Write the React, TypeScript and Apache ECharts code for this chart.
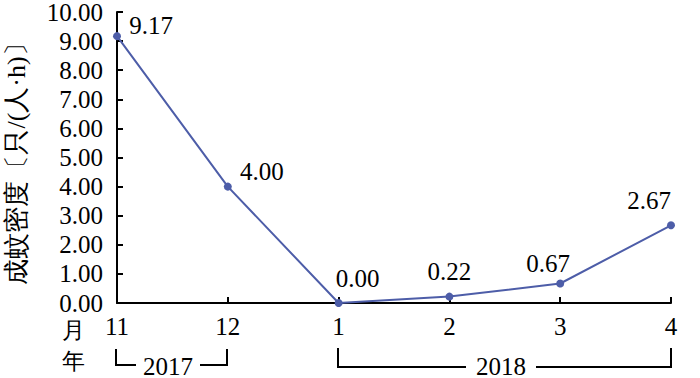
import React, { useEffect, useRef } from "react";
import * as echarts from "echarts";

const months = ["11", "12", "1", "2", "3", "4"];
const density = [9.17, 4.0, 0.0, 0.22, 0.67, 2.67];
const yearGroups = ["2017", "2018"];
const yMin = 0;
const yMax = 10;
const yStep = 1;

// label nudges (style only)
const labelOffsets: [number, number][] = [
  [34, 11],
  [34, 6],
  [19, -3],
  [0, -4],
  [-12, 1],
  [-22, -3],
];

const SERIF = "serif";
const LINE = "#4d5da8";
const FS = 25;

export default function App() {
  const ref = useRef<HTMLDivElement>(null);
  useEffect(() => {
    if (!ref.current) return;
    const chart = echarts.init(ref.current, null, { renderer: "svg" });
    const bracket = (x1: number, x2: number, y1: number, y2: number, tx1: number, tx2: number) => [
      { type: "polyline", shape: { points: [[x1, y1], [x1, y2], [tx1, y2]] }, style: { stroke: "#000", lineWidth: 2, fill: "none" } },
      { type: "polyline", shape: { points: [[tx2, y2], [x2, y2], [x2, y1]] }, style: { stroke: "#000", lineWidth: 2, fill: "none" } },
    ];
    chart.setOption({
      animation: false,
      backgroundColor: "#fff",
      grid: { left: 117, right: 29, top: 12, bottom: 75, containLabel: false, outerBoundsMode: "none" },
      xAxis: {
        type: "category",
        data: months,
        boundaryGap: false,
        axisLine: { lineStyle: { color: "#000", width: 2 } },
        axisTick: { inside: true, length: 6, lineStyle: { color: "#000", width: 2 } },
        axisLabel: { color: "#000", fontFamily: SERIF, fontSize: FS, margin: 11 },
      },
      yAxis: {
        type: "value",
        min: yMin,
        max: yMax,
        interval: yStep,
        name: "成蚊密度〔只/(人·h)〕",
        nameLocation: "middle",
        nameRotate: 90,
        nameGap: 88,
        nameTextStyle: { color: "#000", fontFamily: SERIF, fontSize: 26 },
        splitLine: { show: false },
        axisLine: { show: true, lineStyle: { color: "#000", width: 2 } },
        axisTick: { show: true, inside: true, length: 6, lineStyle: { color: "#000", width: 2 } },
        axisLabel: {
          color: "#000",
          fontFamily: SERIF,
          fontSize: FS,
          margin: 14,
          formatter: (v: number) => v.toFixed(2),
        },
      },
      series: [
        {
          type: "line",
          data: density.map((v, i) => ({
            value: v,
            label: { offset: labelOffsets[i] },
          })),
          symbol: "circle",
          symbolSize: 8,
          lineStyle: { color: LINE, width: 2 },
          itemStyle: { color: LINE },
          label: {
            show: true,
            position: "top",
            color: "#000",
            fontFamily: SERIF,
            fontSize: FS,
            formatter: (p: any) => Number(p.value).toFixed(2),
          },
        },
      ],
      graphic: [
        { type: "text", left: 62, top: 319, style: { text: "月", fontFamily: SERIF, fontSize: 23, fill: "#000" } },
        { type: "text", left: 62, top: 350, style: { text: "年", fontFamily: SERIF, fontSize: 23, fill: "#000" } },
        ...bracket(116, 227, 349, 365, 136, 200),
        { type: "text", x: 168, y: 366, style: { text: yearGroups[0], fontFamily: SERIF, fontSize: FS, fill: "#000", align: "center", verticalAlign: "middle" } },
        ...bracket(338, 671, 348, 367, 466, 536),
        { type: "text", x: 501, y: 366, style: { text: yearGroups[1], fontFamily: SERIF, fontSize: FS, fill: "#000", align: "center", verticalAlign: "middle" } },
      ],
    });
    return () => chart.dispose();
  }, []);
  return <div ref={ref} style={{ width: 700, height: 378, position: "absolute", left: 0, top: 0 }} />;
}
